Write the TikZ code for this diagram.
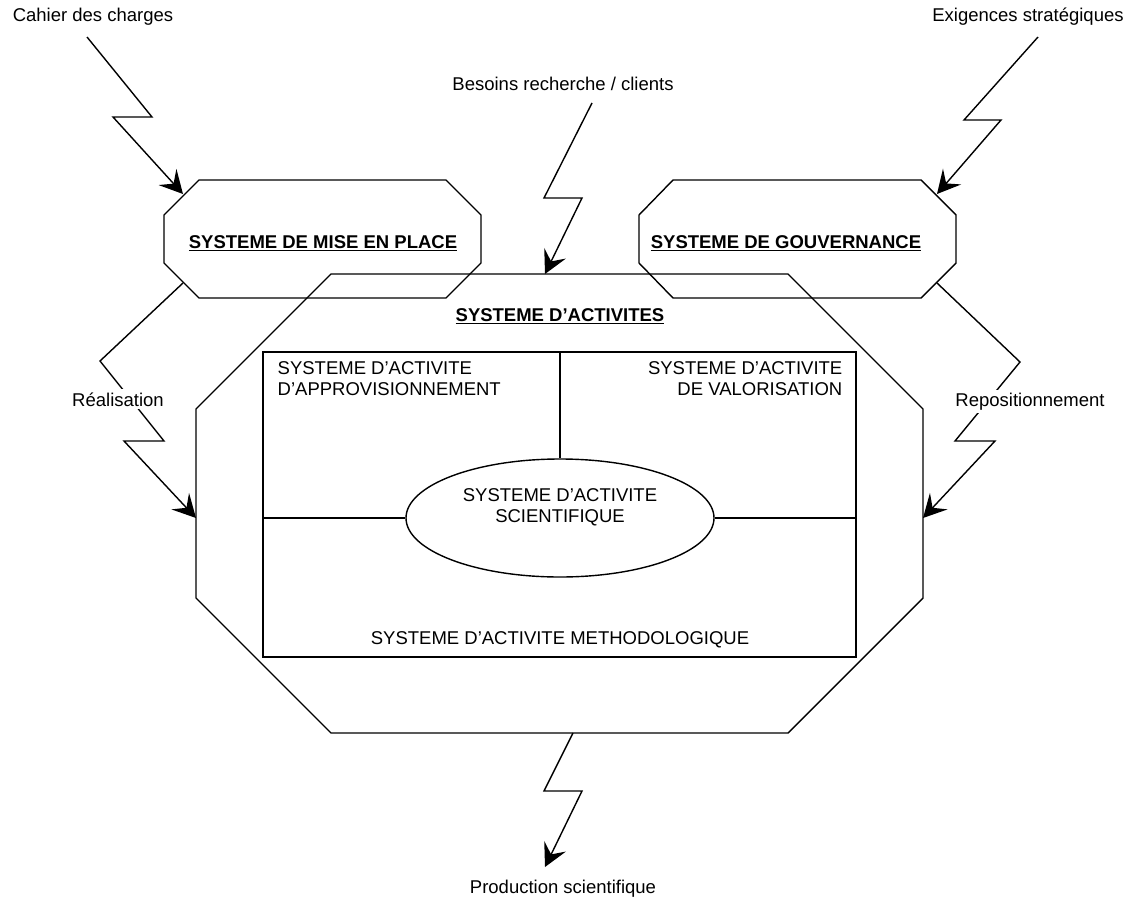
\documentclass[tikz,border=0pt]{standalone}
\usepackage{fontspec}
\setmainfont{Liberation Sans}
\usetikzlibrary{arrows.meta,shapes.geometric}
\tikzset{
  txt/.style={font=\fontsize{18.5}{21}\selectfont, inner sep=0pt},
  ttl/.style={font=\fontsize{18.5}{21}\selectfont\bfseries, inner sep=0pt},
  bolt/.style={-{Stealth[length=23pt,width=24pt,inset=9pt]}},
}
\begin{document}
\begin{tikzpicture}[x=1pt, y=-1pt, line width=1.4pt, line join=miter]
\useasboundingbox (0,0) rectangle (1135,899);
% octagones
\draw (199,180) -- (446,180) -- (481,215) -- (481,263) -- (446,298) -- (199,298) -- (164,263) -- (164,215) -- cycle;
\draw (673,180) -- (921,180) -- (956,215) -- (956,263) -- (921,298) -- (673,298) -- (639,263) -- (639,215) -- cycle;
\draw (331,274) -- (788,274) -- (923,409) -- (923,598) -- (788,733) -- (331,733) -- (196,598) -- (196,409) -- cycle;
\node[ttl] (mep) at (323,243) {\underline{SYSTEME DE MISE EN PLACE}};
\node[ttl] (gouv) at (786,243) {\underline{SYSTEME DE GOUVERNANCE}};
\node[ttl] (act) at (560,316) {\underline{SYSTEME D’ACTIVITES}};
% sous-systemes
\draw (263,352) rectangle (856,657);
\coordinate (R_t) at (560,352);
\coordinate (R_l) at (263,518);
\coordinate (R_r) at (856,518);
\node[draw, ellipse, minimum width=308pt, minimum height=118pt] (sci) at (560,518) {};
\node[txt, align=center] (scitxt) at (560,507) {SYSTEME D’ACTIVITE\\SCIENTIFIQUE};
\draw (R_t) -- (sci.north);
\draw (R_l) -- (sci.west);
\draw (sci.east) -- (R_r);
\node[txt, align=left, anchor=north west] (appro) at (277,361) {SYSTEME D’ACTIVITE\\D’APPROVISIONNEMENT};
\node[txt, align=right, anchor=north east] (valo) at (843,361) {SYSTEME D’ACTIVITE\\DE VALORISATION};
\node[txt] (metho) at (560,640) {SYSTEME D’ACTIVITE METHODOLOGIQUE};
% flux
\node[txt] (cdc) at (93,17) {Cahier des charges};
\coordinate (cdc_s) at (87,37);
\coordinate (mep_nw) at (183,194);
\draw[bolt] (cdc_s) -- (152,117) -- (113,117) -- (mep_nw);
\node[txt] (exi) at (1028,17) {Exigences stratégiques};
\coordinate (exi_s) at (1038,37);
\coordinate (gouv_ne) at (937,194);
\draw[bolt] (exi_s) -- (964,120) -- (1001,120) -- (gouv_ne);
\node[txt] (bes) at (563,84) {Besoins recherche / clients};
\coordinate (bes_s) at (592,103);
\coordinate (act_n) at (545,274);
\draw[bolt] (bes_s) -- (544,198) -- (582,198) -- (act_n);
\coordinate (act_s) at (573,733);
\coordinate (prod_n) at (545,867);
\draw[bolt] (act_s) -- (544,791) -- (582,791) -- (prod_n);
\node[txt] (prod) at (563,889) {Production scientifique};
\coordinate (mep_sw) at (183,283);
\coordinate (act_w) at (196,518);
\draw[bolt] (mep_sw) -- (100,361) -- (164,441) -- (124,441) -- (act_w);
\node[txt, fill=white, inner sep=3pt, anchor=base] (real) at (118,406) {Réalisation};
\coordinate (gouv_se) at (937,283);
\coordinate (act_e) at (923,518);
\draw[bolt] (gouv_se) -- (1020,362) -- (955,441) -- (995,441) -- (act_e);
\node[txt, fill=white, inner sep=3pt, anchor=base] (repo) at (1030,406) {Repositionnement};
\end{tikzpicture}
\end{document}
